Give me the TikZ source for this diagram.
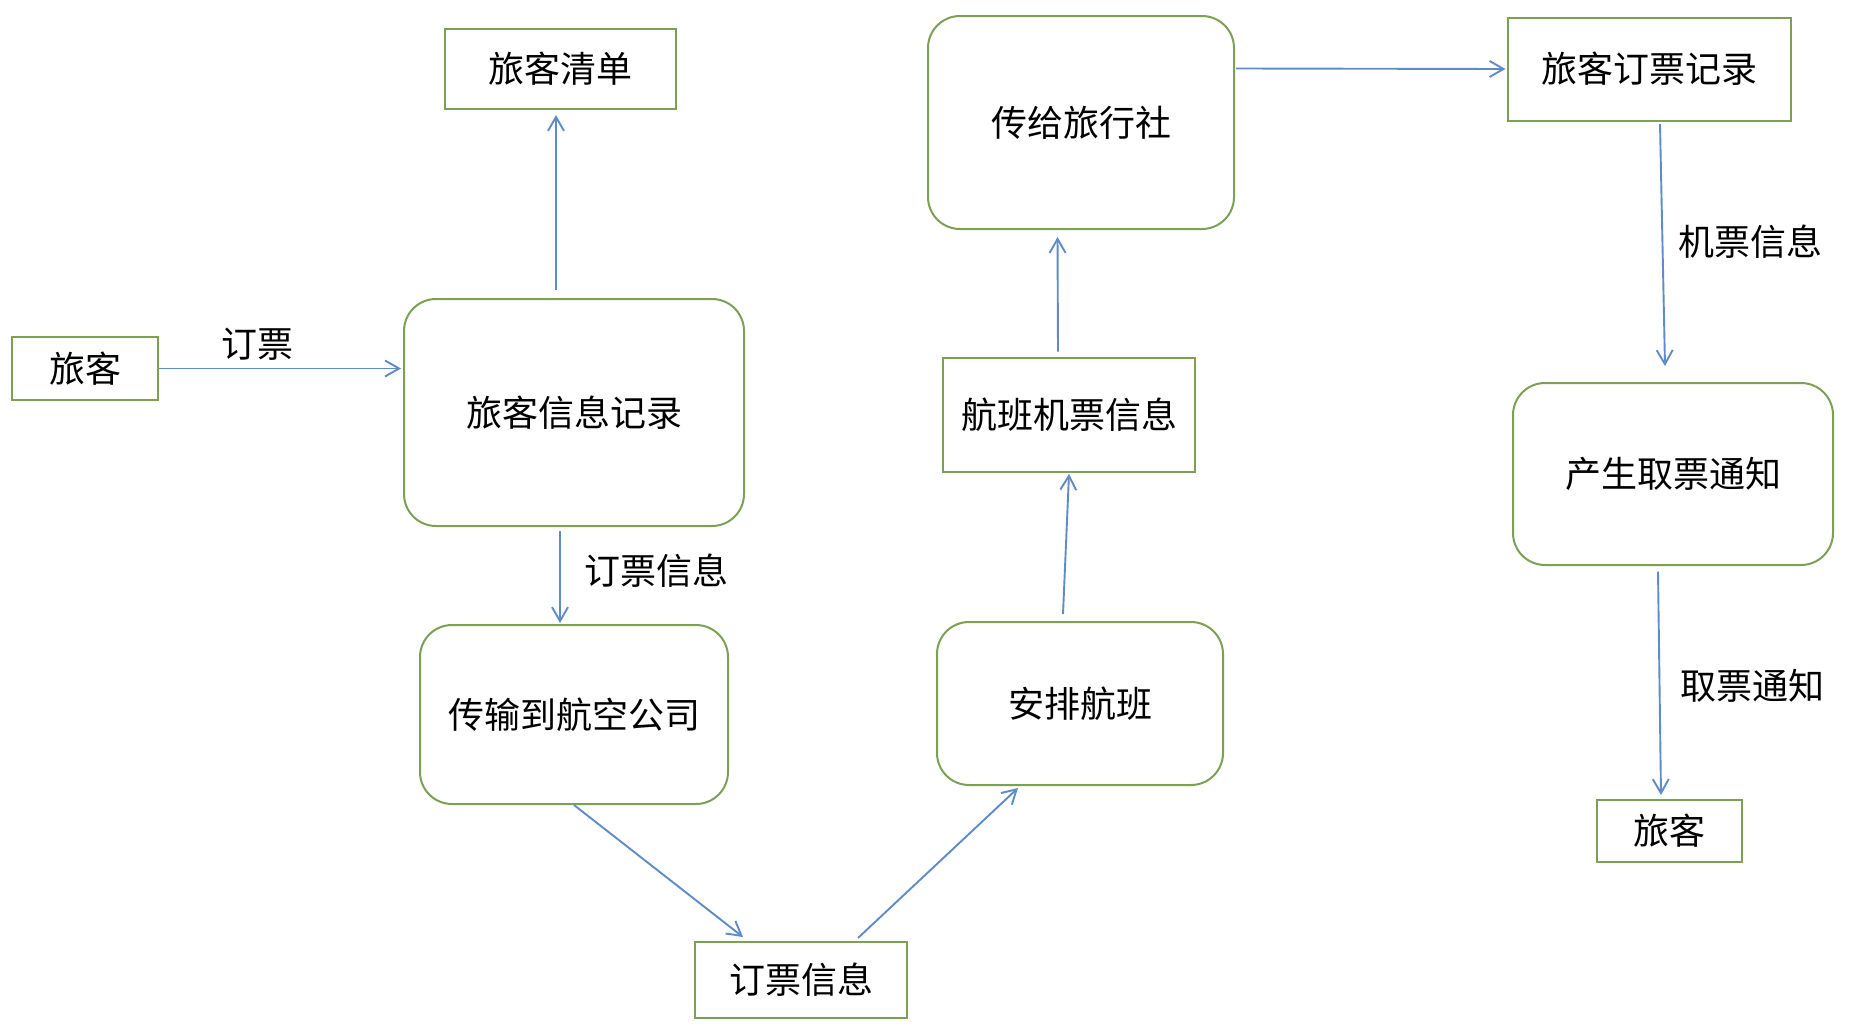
\documentclass[tikz,border=0pt]{standalone}
\usepackage{fontspec}
\setmainfont{Noto Sans CJK SC}
\usetikzlibrary{arrows.meta,calc}
\definecolor{boxgreen}{RGB}{125,160,85}
\definecolor{arrblue}{RGB}{95,140,200}
\begin{document}
\begin{tikzpicture}[x=1pt,y=-1pt,
  every node/.style={font=\fontsize{36}{40}\selectfont, text=black, inner sep=0pt},
  sqbox/.style={draw=boxgreen, line width=2pt, fill=white},
  rdbox/.style={draw=boxgreen, line width=2pt, fill=white, rounded corners=32pt},
  arr/.style={draw=arrblue, line width=1.9pt, -{Straight Barb[length=14pt,width=16pt,line width=1.9pt]}},
  lbl/.style={}]
\useasboundingbox[fill=white] (0,0) rectangle (1861,1036);
% nodes
\node[sqbox, minimum width=146pt, minimum height=63pt] (p1) at (85,368.5) {旅客};
\node[sqbox, minimum width=231pt, minimum height=80pt] (p2) at (560.5,69) {旅客清单};
\node[rdbox, minimum width=340pt, minimum height=227pt] (rec) at (574,412.5) {旅客信息记录};
\node[rdbox, minimum width=308pt, minimum height=179pt] (trans) at (574,714.5) {传输到航空公司};
\node[sqbox, minimum width=212pt, minimum height=76pt] (info) at (801,980) {订票信息};
\node[rdbox, minimum width=286pt, minimum height=163pt] (sched) at (1080,703.5) {安排航班};
\node[sqbox, minimum width=252pt, minimum height=114pt] (flt) at (1069,415) {航班机票信息};
\node[rdbox, minimum width=306pt, minimum height=213pt] (agent) at (1081,122.5) {传给旅行社};
\node[sqbox, minimum width=283pt, minimum height=103pt] (brec) at (1649.5,69) {旅客订票记录};
\node[rdbox, minimum width=320pt, minimum height=182pt] (note) at (1673,474) {产生取票通知};
\node[sqbox, minimum width=145pt, minimum height=62pt] (p3) at (1669,831) {旅客};
% labels
\node[lbl] (l1) at (257,344) {订票};
\node[lbl] (l2) at (656,570.5) {订票信息};
\node[lbl] (l3) at (1750,242) {机票信息};
\node[lbl] (l4) at (1752,685.5) {取票通知};
% connectors
\draw[arr] (p1.east) -- ($(p1.east -| rec.west)+(-2,0)$);
\draw[arr] ($(rec.north)+(-18,-8)$) -- ($(p2.south)+(-4.5,5)$);
\draw[arr] ($(rec.south)+(-14,4)$) -- ($(trans.north)+(-14,-1)$);
\draw[arr] (trans.south) -- ($(info.north)+(-58,-4)$);
\draw[arr] ($(info.north)+(57,-3)$) -- ($(sched.south)+(-62,2)$);
\draw[arr] ($(sched.north)+(-17,-7)$) -- ($(flt.south)+(0,1)$);
\draw[arr] ($(flt.north)+(-11,-5.5)$) -- ($(agent.south)+(-23.5,7)$);
\draw[arr] ($(agent.east)+(1,-54)$) -- ($(brec.west)+(-1.5,0)$);
\draw[arr] ($(brec.south)+(10.5,2.5)$) -- ($(note.north)+(-8,-16)$);
\draw[arr] ($(note.south)+(-15,5.5)$) -- ($(p3.north)+(-8,-4)$);
\end{tikzpicture}
\end{document}
